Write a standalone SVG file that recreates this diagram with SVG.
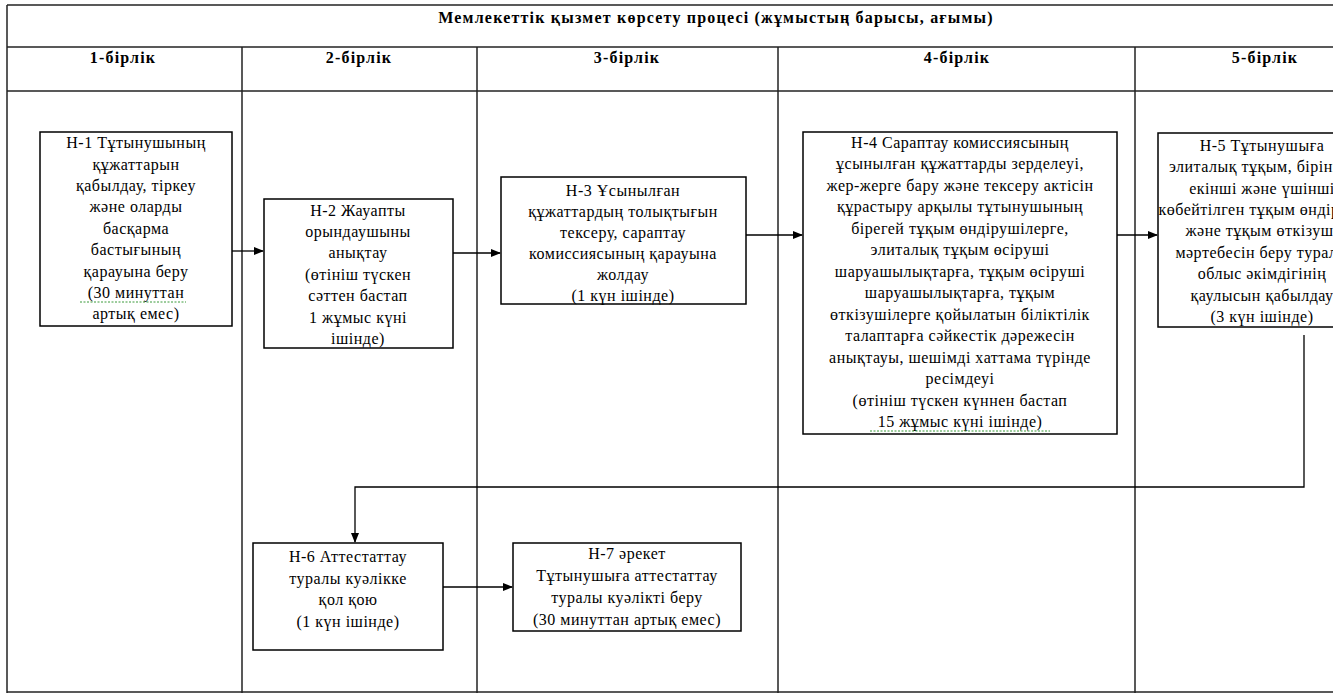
<svg xmlns="http://www.w3.org/2000/svg" width="1333" height="693" viewBox="0 0 1333 693">
<defs>
<marker id="arr" markerWidth="10" markerHeight="8" refX="9" refY="4" orient="auto" markerUnits="userSpaceOnUse">
<path d="M0,0 L10,4 L0,8 Z" fill="#000"/>
</marker>
<style>
.grid{stroke:#222;stroke-width:1.5;fill:none}
.box{fill:#fff;stroke:#000;stroke-width:1.5}
.t{font-family:"Liberation Serif","DejaVu Serif","Times New Roman",serif;font-size:16px;letter-spacing:0.5px;fill:#000;text-anchor:middle}
.h{font-family:"Liberation Serif","DejaVu Serif","Times New Roman",serif;font-size:16px;letter-spacing:1.2px;font-weight:bold;fill:#000;text-anchor:middle}
.c{stroke:#000;stroke-width:1.3;fill:none}
.sq{stroke:#3a9a3a;stroke-width:1;stroke-dasharray:2 1.5;fill:none}
</style>
</defs>
<rect width="1333" height="693" fill="#fff"/>
<g id="table">
<line class="grid" x1="7" y1="5" x2="1333" y2="5"/>
<line class="grid" x1="7" y1="47" x2="1333" y2="47"/>
<line class="grid" x1="7" y1="91" x2="1333" y2="91"/>
<line class="grid" x1="7" y1="5" x2="7" y2="693"/>
<line class="grid" x1="242" y1="47" x2="242" y2="693"/>
<line class="grid" x1="477" y1="47" x2="477" y2="693"/>
<line class="grid" x1="778" y1="47" x2="778" y2="693"/>
<line class="grid" x1="1135" y1="47" x2="1135" y2="693"/>
<line class="grid" x1="7" y1="692" x2="1333" y2="692"/>
<text class="h" x="716" y="23">Мемлекеттік қызмет көрсету процесі (жұмыстың барысы, ағымы)</text>
<text class="h" x="123" y="63">1-бірлік</text>
<text class="h" x="359" y="63">2-бірлік</text>
<text class="h" x="627" y="63">3-бірлік</text>
<text class="h" x="957" y="63">4-бірлік</text>
<text class="h" x="1265" y="63">5-бірлік</text>
</g>
<g id="connectors">
<line class="c" x1="232" y1="251" x2="263" y2="251" marker-end="url(#arr)"/>
<line class="c" x1="453" y1="253" x2="500" y2="253" marker-end="url(#arr)"/>
<line class="c" x1="746" y1="235" x2="802" y2="235" marker-end="url(#arr)"/>
<line class="c" x1="1117" y1="235" x2="1157" y2="235" marker-end="url(#arr)"/>
<polyline class="c" points="1304,335 1304,487 355,487 355,542" marker-end="url(#arr)"/>
<line class="c" x1="443" y1="587" x2="512" y2="587" marker-end="url(#arr)"/>
</g>
<g id="n1">
<rect class="box" x="40" y="132" width="192" height="194"/>
<text class="t" x="136" y="148">Н-1 Тұтынушының</text>
<text class="t" x="136" y="170">құжаттарын</text>
<text class="t" x="136" y="191">қабылдау, тіркеу</text>
<text class="t" x="136" y="212">және оларды</text>
<text class="t" x="136" y="234">басқарма</text>
<text class="t" x="136" y="255">бастығының</text>
<text class="t" x="136" y="277">қарауына беру</text>
<text class="t" x="136" y="298">(30 минуттан</text>
<text class="t" x="136" y="319">артық емес)</text>
<path class="sq" d="M80,302 L186,302"/>
</g>
<g id="n2">
<rect class="box" x="264" y="199" width="189" height="149"/>
<text class="t" x="358" y="216">Н-2  Жауапты</text>
<text class="t" x="358" y="237">орындаушыны</text>
<text class="t" x="358" y="258">анықтау</text>
<text class="t" x="358" y="280">(өтініш түскен</text>
<text class="t" x="358" y="301">сәттен бастап</text>
<text class="t" x="358" y="323">1 жұмыс күні</text>
<text class="t" x="358" y="344">ішінде)</text>
</g>
<g id="n3">
<rect class="box" x="501" y="177" width="245" height="127"/>
<text class="t" x="623" y="196">Н-3 Ұсынылған</text>
<text class="t" x="623" y="217">құжаттардың толықтығын</text>
<text class="t" x="623" y="238">тексеру, сараптау</text>
<text class="t" x="623" y="259">комиссиясының қарауына</text>
<text class="t" x="623" y="280">жолдау</text>
<text class="t" x="623" y="301">(1 күн ішінде)</text>
</g>
<g id="n4">
<rect class="box" x="803" y="132" width="314" height="302"/>
<text class="t" x="960" y="148">Н-4  Сараптау комиссиясының</text>
<text class="t" x="960" y="169">ұсынылған құжаттарды зерделеуі,</text>
<text class="t" x="960" y="191">жер-жерге бару және тексеру актісін</text>
<text class="t" x="960" y="212">құрастыру арқылы тұтынушының</text>
<text class="t" x="960" y="234">бірегей тұқым өндірушілерге,</text>
<text class="t" x="960" y="255">элиталық тұқым өсіруші</text>
<text class="t" x="960" y="277">шаруашылықтарға, тұқым өсіруші</text>
<text class="t" x="960" y="298">шаруашылықтарға, тұқым</text>
<text class="t" x="960" y="320">өткізушілерге қойылатын біліктілік</text>
<text class="t" x="960" y="341">талаптарға сәйкестік дәрежесін</text>
<text class="t" x="960" y="363">анықтауы, шешімді хаттама түрінде</text>
<text class="t" x="960" y="384">ресімдеуі</text>
<text class="t" x="960" y="406">(өтініш түскен күннен бастап</text>
<text class="t" x="960" y="427">15 жұмыс күні ішінде)</text>
<path class="sq" d="M870,431 L1050,431"/>
</g>
<g id="n5">
<rect class="box" x="1158" y="133" width="240" height="194"/>
<text class="t" x="1262" y="151">Н-5 Тұтынушыға</text>
<text class="t" x="1262" y="172">элиталық тұқым, бірінші,</text>
<text class="t" x="1262" y="194">екінші және үшінші</text>
<text class="t" x="1262" y="215">көбейтілген тұқым өндіруші</text>
<text class="t" x="1262" y="236">және тұқым өткізуші</text>
<text class="t" x="1262" y="258">мәртебесін беру туралы</text>
<text class="t" x="1262" y="279">облыс әкімдігінің</text>
<text class="t" x="1262" y="301">қаулысын қабылдау</text>
<text class="t" x="1262" y="322">(3 күн ішінде)</text>
</g>
<g id="n6">
<rect class="box" x="253" y="543" width="190" height="107"/>
<text class="t" x="348" y="562">Н-6 Аттестаттау</text>
<text class="t" x="348" y="584">туралы куәлікке</text>
<text class="t" x="348" y="605">қол қою</text>
<text class="t" x="348" y="627">(1 күн ішінде)</text>
</g>
<g id="n7">
<rect class="box" x="513" y="543" width="228" height="88"/>
<text class="t" x="627" y="559">Н-7 әрекет</text>
<text class="t" x="627" y="581">Тұтынушыға аттестаттау</text>
<text class="t" x="627" y="603">туралы куәлікті беру</text>
<text class="t" x="627" y="625">(30 минуттан артық емес)</text>
</g>
</svg>
